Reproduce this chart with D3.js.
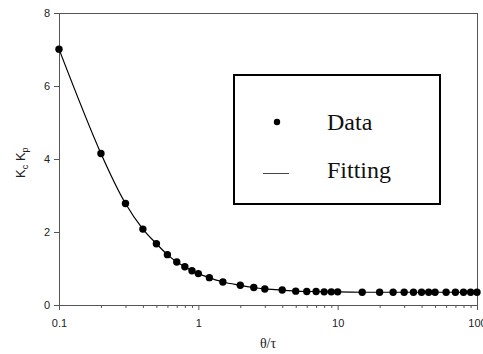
<!DOCTYPE html>
<html>
<head>
<meta charset="utf-8">
<script src="https://cdn.jsdelivr.net/npm/d3@7"></script>
<style>
  body { margin: 0; background: #fff; }
  svg { display: block; }
</style>
</head>
<body>
<svg id="chart" width="483" height="354"></svg>
<script>
// ratio theta/tau
const thetaTau = [0.1, 0.2, 0.3, 0.4, 0.5, 0.6, 0.7, 0.8, 0.9, 1.0,
  1.2, 1.5, 2, 2.5, 3, 4, 5, 6, 7, 8, 9, 10,
  15, 20, 25, 30, 35, 40, 45, 50, 60, 70, 80, 90, 100];
// Kc*Kp
const kcKp = [7.01, 4.15, 2.78, 2.08, 1.68, 1.38, 1.18, 1.05, 0.94, 0.86,
  0.75, 0.63, 0.54, 0.48, 0.44, 0.41, 0.38, 0.37, 0.37, 0.36, 0.36, 0.36,
  0.35, 0.35, 0.35, 0.35, 0.35, 0.35, 0.35, 0.35, 0.35, 0.35, 0.35, 0.35, 0.35];
const xTicks = [0.1, 1, 10, 100];
const yTicks = [0, 2, 4, 6, 8];
const legendItems = ['Data', 'Fitting'];

const margin = { top: 13, right: 6, bottom: 49, left: 59 };
const W = 483, H = 354;
const w = W - margin.left - margin.right;
const h = H - margin.top - margin.bottom;

const svg = d3.select('#chart');
const g = svg.append('g').attr('transform', 'translate(' + margin.left + ',' + margin.top + ')');

const x = d3.scaleLog().domain([0.1, 100]).range([0, w]);
const y = d3.scaleLinear().domain([0, 8]).range([h, 0]);

const axisColor = '#555';

// frame (top & right)
g.append('line').attr('x1', 0).attr('x2', w).attr('y1', 0.5).attr('y2', 0.5)
  .attr('stroke', axisColor);
g.append('line').attr('x1', w + 0.5).attr('x2', w + 0.5).attr('y1', 0).attr('y2', h)
  .attr('stroke', axisColor);

// minor x ticks
const minor = [];
[0.1, 1, 10].forEach(function(d) {
  for (let i = 2; i <= 9; i++) minor.push(d * i);
});
const xAxisMinor = d3.axisBottom(x).tickValues(minor).tickSize(3).tickFormat('');
g.append('g').attr('transform', 'translate(0,' + h + ')').call(xAxisMinor)
  .call(s => s.select('.domain').remove())
  .selectAll('line').attr('stroke', axisColor);

const xAxis = d3.axisBottom(x).tickValues(xTicks).tickSize(5).tickSizeOuter(0)
  .tickFormat(d3.format('~g'));
const gx = g.append('g').attr('transform', 'translate(0,' + h + ')').call(xAxis);
gx.select('.domain').attr('stroke', axisColor);
gx.selectAll('line').attr('stroke', axisColor);
gx.selectAll('text').attr('font-family', 'Arial, "Liberation Sans", sans-serif')
  .attr('font-size', 11).attr('fill', '#222').attr('dy', '1.25em');

const yAxis = d3.axisLeft(y).tickValues(yTicks).tickSize(5).tickSizeOuter(0);
const gy = g.append('g').call(yAxis);
gy.select('.domain').attr('stroke', axisColor);
gy.selectAll('line').attr('stroke', axisColor);
gy.selectAll('text').attr('font-family', 'Arial, "Liberation Sans", sans-serif')
  .attr('font-size', 11).attr('fill', '#222').attr('x', -9);

// axis titles
svg.append('text')
  .attr('x', margin.left + x(1) + (x(10) - x(1)) * 0.5).attr('y', 348)
  .attr('text-anchor', 'middle')
  .attr('font-family', '"Liberation Serif", "Times New Roman", serif')
  .attr('font-size', 14).attr('fill', '#222')
  .text('θ/τ');

const yt = svg.append('text')
  .attr('transform', 'translate(25,' + (margin.top + y(3.9)) + ') rotate(-90)')
  .attr('text-anchor', 'middle')
  .attr('font-family', 'Arial, "Liberation Sans", sans-serif')
  .attr('font-size', 13).attr('fill', '#222');
yt.append('tspan').text('K');
yt.append('tspan').attr('font-size', 9).attr('dy', 3).text('c');
yt.append('tspan').attr('dy', -3).text(' K');
yt.append('tspan').attr('font-size', 9).attr('dy', 3).text('p');

// fitting line
const pts = thetaTau.map((d, i) => [d, kcKp[i]]);
const line = d3.line()
  .x(d => x(d[0])).y(d => y(d[1]))
  .curve(d3.curveCatmullRom.alpha(0.5));
g.append('path').datum(pts)
  .attr('d', line).attr('fill', 'none')
  .attr('stroke', '#000').attr('stroke-width', 1.2);

// data points
g.selectAll('circle.pt').data(pts).enter().append('circle')
  .attr('class', 'pt')
  .attr('cx', d => x(d[0])).attr('cy', d => y(d[1]))
  .attr('r', 3.7).attr('fill', '#000');

// legend
const lg = svg.append('g').attr('transform', 'translate(234,75)');
lg.append('rect').attr('width', 206).attr('height', 129)
  .attr('fill', '#fff').attr('stroke', '#000').attr('stroke-width', 2);
lg.append('circle').attr('cx', 43).attr('cy', 47).attr('r', 3.2).attr('fill', '#000');
lg.append('line').attr('x1', 29).attr('x2', 55).attr('y1', 98.5).attr('y2', 98.5)
  .attr('stroke', '#444').attr('stroke-width', 1);
lg.selectAll('text.lt').data(legendItems).enter().append('text')
  .attr('class', 'lt')
  .attr('x', 93).attr('y', (d, i) => 55 + i * 48)
  .attr('font-family', '"Liberation Serif", "Times New Roman", serif')
  .attr('font-size', 24).attr('fill', '#111')
  .text(d => d);
</script>
</body>
</html>
